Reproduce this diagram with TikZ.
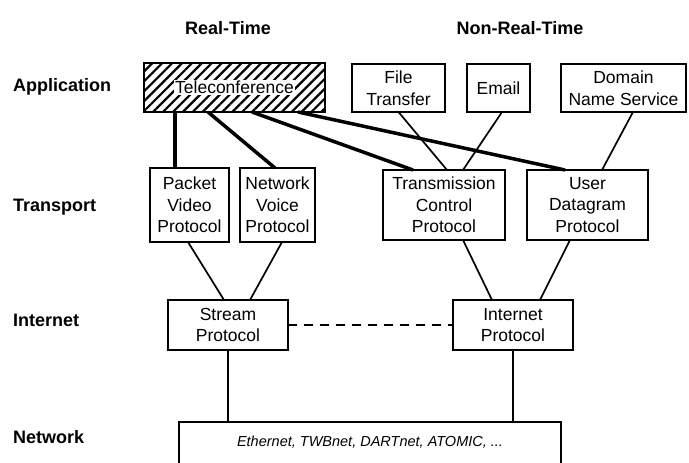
\documentclass[tikz,border=0pt]{standalone}
\usepackage{fontspec}
\setmainfont{Liberation Sans}
\usetikzlibrary{patterns.meta}
\begin{document}
\begin{tikzpicture}[x=1pt,y=-1pt,
  box/.style={draw, line width=2.3pt, inner sep=0pt, outer sep=0pt, align=center,
    font=\fontsize{17.5}{21.5}\selectfont},
  lbl/.style={font=\fontsize{18}{20}\selectfont\bfseries, anchor=west, inner sep=0pt},
  hdr/.style={font=\fontsize{18}{20}\selectfont\bfseries, inner sep=0pt},
  link/.style={line width=1.7pt},
  rtlink/.style={line width=3.5pt},
  dlink/.style={line width=1.7pt, dash pattern=on 9pt off 7pt},
]
\useasboundingbox (0,0) rectangle (689,463);

% headers and layer labels
\node[hdr] (hrt) at (228,28) {Real-Time};
\node[hdr] (hnrt) at (520,28) {Non-Real-Time};
\node[lbl] (lapp) at (13,87) {Application};
\node[lbl] (ltr) at (13,207) {Transport};
\node[lbl] (lin) at (13,320) {Internet};
\node[lbl] (lnet) at (13,437) {Network};

% application layer
\node[box, minimum width=181pt, minimum height=49pt,
  pattern={Lines[angle=45,distance=7pt,line width=2.2pt]}] (tele) at (234.5,87.5) {};
\node[fill=white, inner sep=1pt, font=\fontsize{17.5}{21.5}\selectfont] (teletxt) at (tele) {Teleconference};
\node[box, minimum width=93pt, minimum height=48pt] (ft) at (398.5,88) {File\\Transfer};
\node[box, minimum width=63pt, minimum height=48pt] (em) at (498.5,88) {Email};
\node[box, minimum width=125pt, minimum height=48pt] (dns) at (623.5,88) {Domain\\Name Service};

% transport layer
\node[box, minimum width=79pt, minimum height=74pt] (pvp) at (189.5,205) {Packet\\Video\\Protocol};
\node[box, minimum width=75pt, minimum height=74pt] (nvp) at (277.5,205) {Network\\Voice\\Protocol};
\node[box, minimum width=122pt, minimum height=70pt] (tcp) at (444,205) {Transmission\\Control\\Protocol};
\node[box, minimum width=121pt, minimum height=70pt] (udp) at (587.5,205) {User\\Datagram\\Protocol};

% internet layer
\node[box, minimum width=120pt, minimum height=50pt] (sp) at (228,325) {Stream\\Protocol};
\node[box, minimum width=120pt, minimum height=50pt] (ip) at (513,325) {Internet\\Protocol};

% network layer
\node[minimum width=382pt, minimum height=41pt, inner sep=0pt, outer sep=0pt,
  font=\fontsize{14.5}{16}\selectfont\itshape] (net) at (370,442.5) {Ethernet, TWBnet, DARTnet, ATOMIC, ...};
\draw[line width=2.3pt] (net.south west) -- (net.north west) -- (net.north east) -- (net.south east);

% real-time connectors
\draw[rtlink] ([xshift=31pt]tele.south west) -- ([xshift=-14.5pt]pvp.north);
\draw[rtlink] ([xshift=64pt]tele.south west) -- ([xshift=-2.5pt]nvp.north);
\draw[rtlink] ([xshift=108pt]tele.south west) -- ([xshift=30pt]tcp.north west);
\draw[rtlink] ([xshift=154pt]tele.south west) -- ([xshift=38pt]udp.north west);

% other connectors
\draw[link] (ft.south) -- ([xshift=64pt]tcp.north west);
\draw[link] ([xshift=3.5pt]em.south) -- ([xshift=80pt]tcp.north west);
\draw[link] ([xshift=9.5pt]dns.south) -- ([xshift=75pt]udp.north west);
\draw[link] ([xshift=-1.5pt]pvp.south) -- ([xshift=-4pt]sp.north);
\draw[link] ([xshift=4.5pt]nvp.south) -- ([xshift=22pt]sp.north);
\draw[link] ([xshift=19pt]tcp.south) -- ([xshift=-21pt]ip.north);
\draw[link] ([xshift=-17.5pt]udp.south) -- ([xshift=27pt]ip.north);
\draw[dlink] (sp.east) -- (ip.west);
\draw[link] (sp.south) -- (sp.south |- net.north);
\draw[link] (ip.south) -- (ip.south |- net.north);
\end{tikzpicture}
\end{document}
